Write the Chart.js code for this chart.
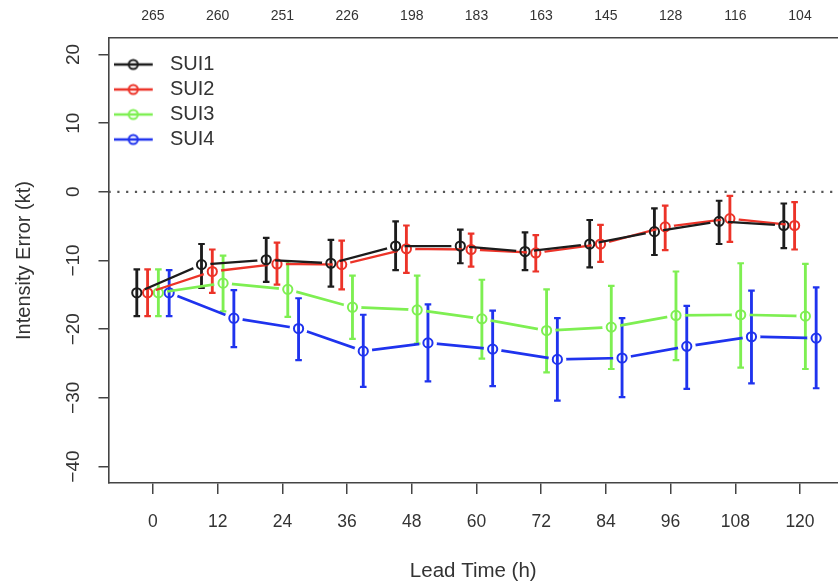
<!DOCTYPE html>
<html>
<head>
<meta charset="utf-8">
<script src="https://cdn.jsdelivr.net/npm/chart.js@4.4.1/dist/chart.umd.min.js"></script>
<style>
html,body{margin:0;padding:0;background:#fff;}
canvas{display:block;}
</style>
</head>
<body>
<canvas id="c" width="838" height="584"></canvas>
<script>
// ---------------- data ----------------
const leadTimes   = [0, 12, 24, 36, 48, 60, 72, 84, 96, 108, 120];
const sampleSizes = [265, 260, 251, 226, 198, 183, 163, 145, 128, 116, 104];
const yTickValues = [-40, -30, -20, -10, 0, 10, 20];
const seriesNames = ['SUI1', 'SUI2', 'SUI3', 'SUI4'];

const sui1Mean  = [-14.7, -10.6,  -9.9, -10.4,  -7.9,  -7.9,  -8.7,  -7.6,  -5.8,  -4.3,  -4.9];
const sui1Lower = [-18.1, -14.0, -13.1, -13.8, -11.4, -10.4, -11.4, -11.0,  -9.2,  -7.6,  -8.2];
const sui1Upper = [-11.3,  -7.6,  -6.7,  -7.0,  -4.3,  -5.5,  -5.9,  -4.1,  -2.4,  -1.3,  -1.7];

const sui2Mean  = [-14.7, -11.6, -10.5, -10.6,  -8.3,  -8.4,  -8.9,  -7.6,  -5.1,  -3.9,  -4.9];
const sui2Lower = [-18.1, -14.7, -13.5, -14.2, -11.8, -10.9, -11.6, -10.2,  -8.5,  -7.3,  -8.4];
const sui2Upper = [-11.3,  -8.4,  -7.4,  -7.1,  -4.9,  -6.1,  -6.3,  -4.8,  -2.0,  -0.6,  -1.5];

const sui3Mean  = [-14.7, -13.3, -14.2, -16.8, -17.2, -18.5, -20.2, -19.7, -18.0, -17.9, -18.1];
const sui3Lower = [-18.1, -17.4, -18.2, -21.4, -22.1, -24.3, -26.3, -25.8, -24.5, -25.6, -25.8];
const sui3Upper = [-11.3,  -9.3, -10.1, -12.2, -12.2, -12.8, -14.2, -13.7, -11.6, -10.4, -10.5];

const sui4Mean  = [-14.7, -18.4, -19.9, -23.2, -22.0, -22.9, -24.4, -24.2, -22.5, -21.1, -21.3];
const sui4Lower = [-18.1, -22.6, -24.5, -28.4, -27.6, -28.3, -30.4, -29.9, -28.7, -27.9, -28.6];
const sui4Upper = [-11.4, -14.3, -15.5, -17.9, -16.4, -17.3, -18.4, -18.4, -16.6, -14.4, -13.9];

// ---------------- styling ----------------
const means  = [sui1Mean, sui2Mean, sui3Mean, sui4Mean];
const lowers = [sui1Lower, sui2Lower, sui3Lower, sui4Lower];
const uppers = [sui1Upper, sui2Upper, sui3Upper, sui4Upper];
const colors = ['#1c1c1c', '#ec3328', '#7eef52', '#1f33ee'];
const lineWidths = [2.3, 2.3, 2.7, 2.7];
const dodgeHours = [-3, -1, 1, 3];   // horizontal dodge of each series around its lead time
const FONT = "'Liberation Sans', Arial, Helvetica, sans-serif";
const TEXT = '#333';
const AXIS = '#444';
const X_MIN = -8.25, X_MAX = 127.05, Y_MIN = -42.4, Y_MAX = 22.4;

// legend symbols: line with hollow circle
function makeIcon(color, lw) {
  const c = document.createElement('canvas');
  c.width = 46; c.height = 14;
  const g = c.getContext('2d');
  g.strokeStyle = color; g.lineWidth = lw;
  g.beginPath(); g.moveTo(0, 7); g.lineTo(39, 7); g.stroke();
  g.lineWidth = 2;
  g.beginPath(); g.arc(19.5, 7, 4.5, 0, Math.PI * 2); g.stroke();
  return c;
}
const icons = colors.map((c, i) => makeIcon(c, lineWidths[i]));

// ---------------- datasets ----------------
const datasets = [];
seriesNames.forEach((name, s) => {
  datasets.push({
    type: 'line', label: name,
    data: leadTimes.map((t, i) => ({ x: t + dodgeHours[s], y: means[s][i] })),
    borderColor: colors[s], borderWidth: lineWidths[s],
    pointRadius: 4.6, pointBorderWidth: 2, pointBorderColor: colors[s],
    pointBackgroundColor: 'rgba(0,0,0,0)', pointStyle: 'circle',
    tension: 0, fill: false, gapRadius: 9
  });
});
seriesNames.forEach((name, s) => {
  const capData = [];
  leadTimes.forEach((t, i) => {
    capData.push({ x: t + dodgeHours[s], y: lowers[s][i] });
    capData.push({ x: t + dodgeHours[s], y: uppers[s][i] });
  });
  datasets.push({
    type: 'line', label: name + ' caps', data: capData, showLine: false,
    pointStyle: 'line', pointRadius: 3.3, pointBorderWidth: 2.2,
    pointBorderColor: colors[s], pointBackgroundColor: colors[s]
  });
});
seriesNames.forEach((name, s) => {
  datasets.push({
    type: 'bar', label: name + ' range',
    data: leadTimes.map((t, i) => ({ x: t + dodgeHours[s], y: [lowers[s][i], uppers[s][i]] })),
    backgroundColor: colors[s], borderWidth: 0, grouped: false,
    maxBarThickness: 2.2, barPercentage: 1, categoryPercentage: 1
  });
});
datasets.push({
  type: 'line', label: 'zero',
  data: [{ x: X_MIN, y: 0 }, { x: X_MAX, y: 0 }],
  borderColor: '#555', borderWidth: 2.2, borderDash: [2.2, 6.6],
  pointRadius: 0, fill: false
});

// line segments leave a gap around each point (R type="b")
const gapPlugin = {
  id: 'gapLines',
  beforeDatasetDraw(chart, args) {
    const ds = chart.data.datasets[args.index];
    if (!ds.gapRadius) return;
    const ctx = chart.ctx;
    ctx.save();
    ctx.beginPath();
    ctx.rect(0, 0, chart.width, chart.height);
    args.meta.data.forEach(el => {
      ctx.moveTo(el.x + ds.gapRadius, el.y);
      ctx.arc(el.x, el.y, ds.gapRadius, 0, Math.PI * 2);
    });
    ctx.clip('evenodd');
  },
  afterDatasetDraw(chart, args) {
    const ds = chart.data.datasets[args.index];
    if (!ds.gapRadius) return;
    chart.ctx.restore();
    args.meta.data.forEach(el => el.draw(chart.ctx, chart.chartArea));
  }
};

new Chart(document.getElementById('c'), {
  type: 'line',
  data: { datasets },
  plugins: [gapPlugin],
  options: {
    responsive: false, animation: false, devicePixelRatio: 1,
    layout: { autoPadding: false, padding: 0 },
    plugins: {
      tooltip: { enabled: false },
      legend: {
        position: 'chartArea', align: 'start',
        title: { display: true, text: ' ', font: { size: 8, lineHeight: 1 }, padding: { top: 0, bottom: 41.5 } },
        labels: {
          usePointStyle: true, pointStyleWidth: 46.5, boxHeight: 14, padding: 5,
          color: TEXT, font: { family: FONT, size: 20 },
          generateLabels: () => seriesNames.map((n, i) => ({
            text: n, pointStyle: icons[i], fillStyle: colors[i], strokeStyle: colors[i],
            lineWidth: 0, hidden: false, datasetIndex: i, fontColor: TEXT
          }))
        }
      }
    },
    scales: {
      x: {
        type: 'linear', position: 'bottom', min: X_MIN, max: X_MAX, offset: false,
        afterBuildTicks: sc => { sc.ticks = leadTimes.map(v => ({ value: v })); },
        afterFit: sc => { sc.height = 101; },
        grid: { drawOnChartArea: false, drawTicks: true, tickLength: 11, color: AXIS, lineWidth: 1.5, offset: false },
        border: { display: true, color: AXIS, width: 1.6 },
        ticks: { autoSkip: false, maxRotation: 0, padding: 18, color: TEXT, font: { family: FONT, size: 17.5 } },
        title: { display: true, text: 'Lead Time (h)', color: TEXT, font: { family: FONT, size: 20.5 }, padding: { top: 0, bottom: 0 } }
      },
      xTop: {
        type: 'linear', position: 'top', min: X_MIN, max: X_MAX, offset: false,
        afterBuildTicks: sc => { sc.ticks = leadTimes.map(v => ({ value: v })); },
        afterFit: sc => { sc.height = 38; },
        grid: { drawOnChartArea: false, drawTicks: false },
        border: { display: true, color: AXIS, width: 1.6 },
        ticks: {
          autoSkip: false, maxRotation: 0, padding: 13.6, color: TEXT, font: { family: FONT, size: 14 },
          callback: v => sampleSizes[leadTimes.indexOf(v)]
        }
      },
      y: {
        type: 'linear', position: 'left', min: Y_MIN, max: Y_MAX, beginAtZero: false,
        afterBuildTicks: sc => { sc.ticks = yTickValues.map(v => ({ value: v })); },
        afterFit: sc => { sc.width = 108.5; },
        grid: { drawOnChartArea: false, drawTicks: true, tickLength: 10, color: AXIS, lineWidth: 1.5 },
        border: { display: true, color: AXIS, width: 1.6 },
        ticks: {
          minRotation: 90, maxRotation: 90, crossAlign: 'center', padding: 8.5,
          color: TEXT, font: { family: FONT, size: 19 },
          callback: v => (v < 0 ? '\u2212' + Math.abs(v) : String(v))
        },
        title: { display: true, text: 'Intensity Error (kt)', color: TEXT, font: { family: FONT, size: 20 }, padding: { top: 12, bottom: 0 } }
      }
    }
  }
});
</script>
</body>
</html>
